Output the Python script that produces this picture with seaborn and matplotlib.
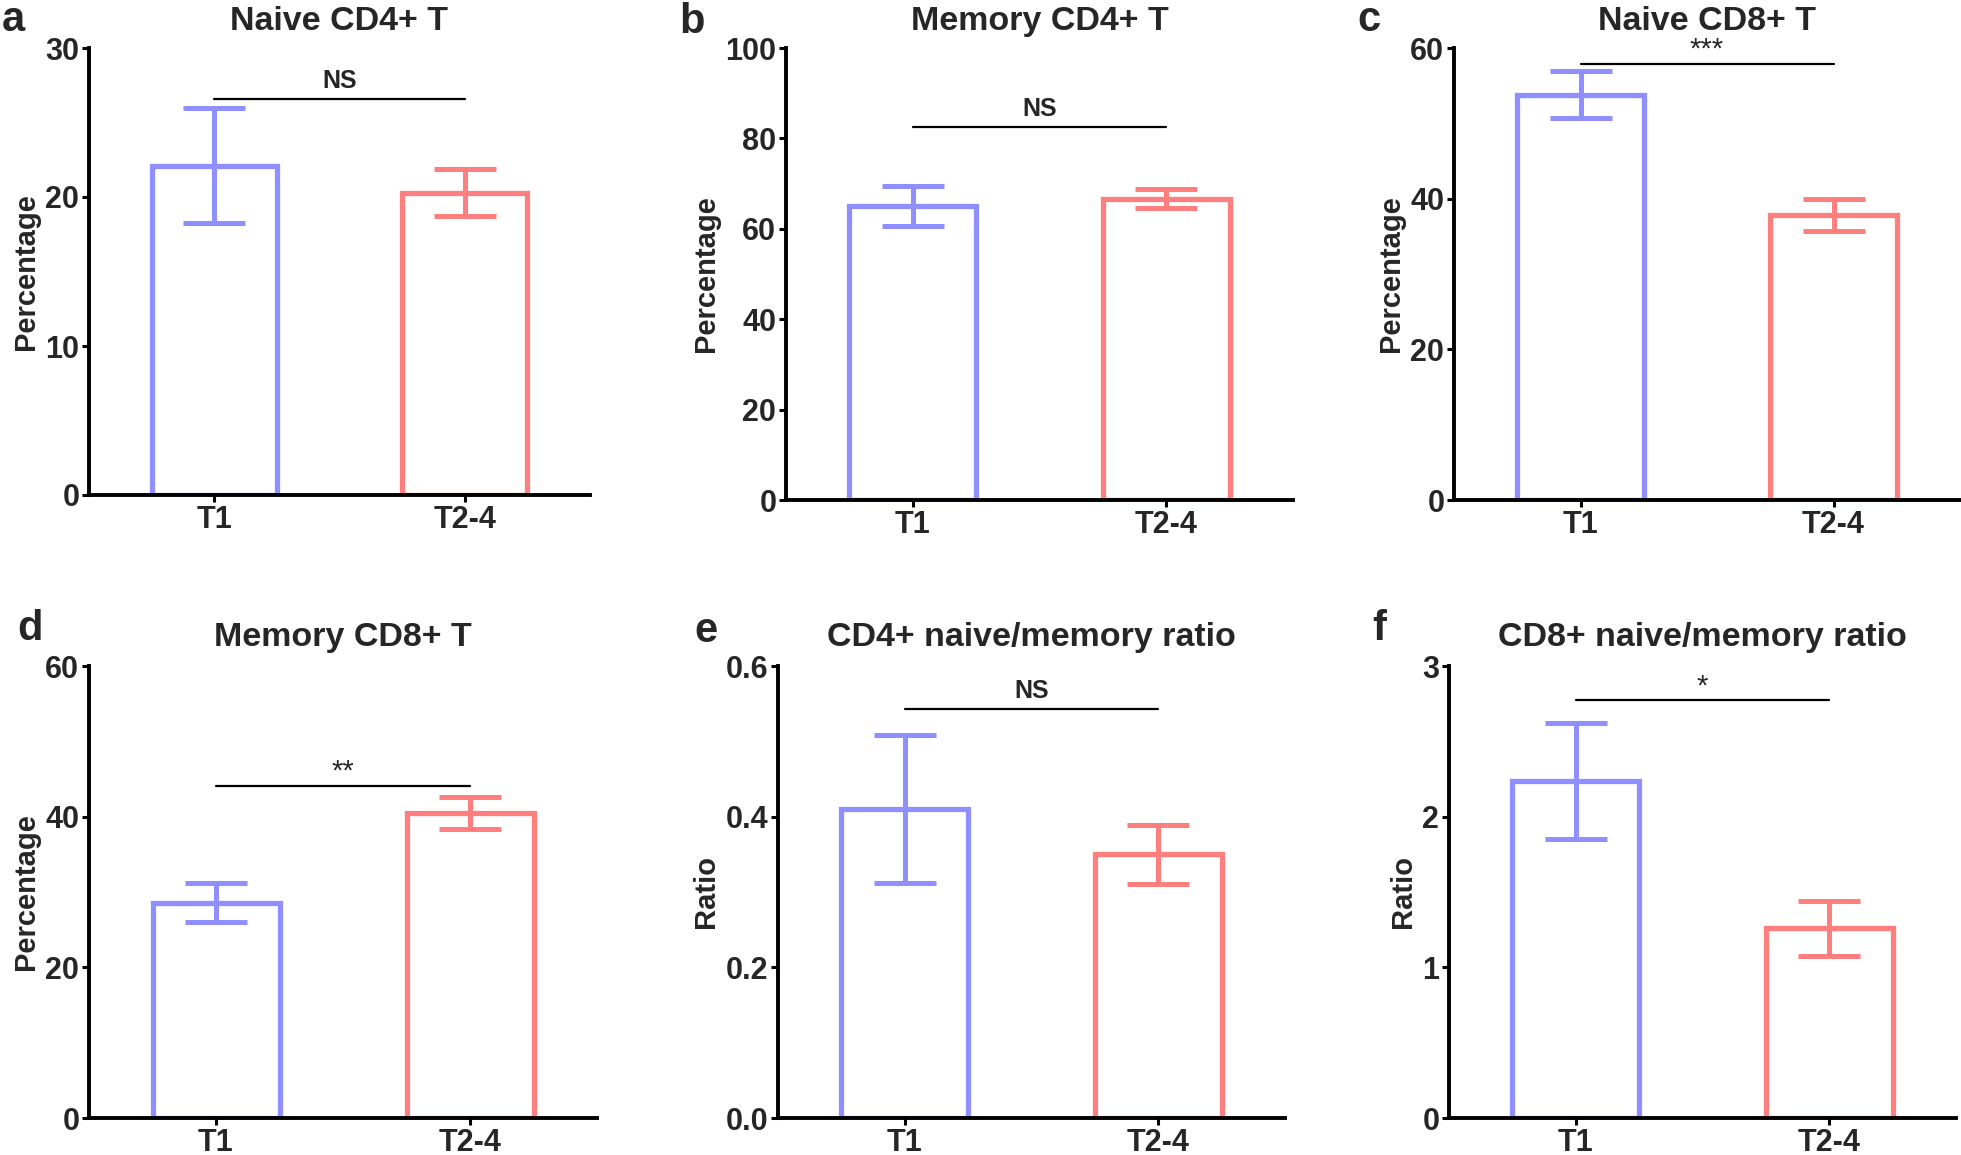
import seaborn as sns
import matplotlib.pyplot as plt
import numpy as np
import pandas as pd

groups = ["T1", "T2-4"]

titles = ["Naive CD4+ T", "Memory CD4+ T", "Naive CD8+ T",
          "Memory CD8+ T", "CD4+ naive/memory ratio", "CD8+ naive/memory ratio"]
letters = ["a", "b", "c", "d", "e", "f"]
ylabels = ["Percentage", "Percentage", "Percentage", "Percentage", "Ratio", "Ratio"]

naive_cd4 = [22.1, 20.3]
naive_cd4_sem = [3.85, 1.6]
memory_cd4 = [65.0, 66.7]
memory_cd4_sem = [4.4, 2.0]
naive_cd8 = [53.8, 37.8]
naive_cd8_sem = [3.1, 2.15]
memory_cd8 = [28.6, 40.5]
memory_cd8_sem = [2.6, 2.15]
cd4_ratio = [0.410, 0.350]
cd4_ratio_sem = [0.098, 0.039]
cd8_ratio = [2.235, 1.258]
cd8_ratio_sem = [0.385, 0.18]

means = [naive_cd4, memory_cd4, naive_cd8, memory_cd8, cd4_ratio, cd8_ratio]
sems = [naive_cd4_sem, memory_cd4_sem, naive_cd8_sem, memory_cd8_sem, cd4_ratio_sem, cd8_ratio_sem]

ymax = [30, 100, 60, 60, 0.6, 3]
yticks = [[0, 10, 20, 30], [0, 20, 40, 60, 80, 100], [0, 20, 40, 60],
          [0, 20, 40, 60], [0.0, 0.2, 0.4, 0.6], [0, 1, 2, 3]]
ytick_fmt = ["{:.0f}", "{:.0f}", "{:.0f}", "{:.0f}", "{:.1f}", "{:.0f}"]
sig_y = [26.6, 82.6, 57.9, 44.1, 0.543, 2.773]
sig_text = ["NS", "NS", "***", "**", "NS", "*"]

colors = {"T1": "#8f8fff", "T2-4": "#ff7f7f"}

sns.set_theme(style="white")
plt.rcParams['font.family'] = ['Liberation Sans', 'DejaVu Sans']
plt.rcParams['font.weight'] = 'bold'

W, H = 1961, 1155
fig = plt.figure(figsize=(W / 100, H / 100), dpi=100)

# axes boxes in pixels: left, right, top, bottom
boxes = [(89, 590, 48, 495), (786, 1293, 48, 500), (1454, 1960, 48, 500),
         (89, 597, 666, 1118), (778, 1285, 666, 1118), (1449, 1956, 666, 1118)]
# panel letter (left x, baseline y) and title baseline y, in pixels
letter_pos = [(2, 31), (679, 33), (1357, 31), (17, 640), (694, 642), (1372, 640)]
title_base = [30, 30, 30, 646, 646, 646]

for i in range(6):
    l, r, t, b = boxes[i]
    ax = fig.add_axes([l / W, 1 - b / H, (r - l) / W, (b - t) / H])
    df = pd.DataFrame({"group": groups, "value": means[i]})
    sns.barplot(data=df, x="group", y="value", hue="group", palette=colors,
                fill=False, linewidth=3.8, width=0.5, errorbar=None,
                legend=False, ax=ax)
    for j, g in enumerate(groups):
        ax.errorbar(j, means[i][j], yerr=sems[i][j], color=colors[g],
                    elinewidth=3.6, capsize=22, capthick=3.6, fmt='none', zorder=3)
    ax.plot([0, 1], [sig_y[i], sig_y[i]], color="black", lw=1.6, clip_on=False)
    if sig_text[i] == "NS":
        ax.annotate(sig_text[i], xy=(0.5, sig_y[i]), xytext=(0, 4), textcoords="offset points",
                    ha="center", va="bottom", fontsize=18, fontweight="bold")
    else:
        ax.annotate(sig_text[i], xy=(0.5, sig_y[i]), xytext=(0, 0), textcoords="offset points",
                    ha="center", va="bottom", fontsize=21, fontweight="normal")
    ax.set_xlim(-0.5, 1.5)
    ax.set_ylim(0, ymax[i])
    ax.set_yticks(yticks[i])
    ax.set_yticklabels([ytick_fmt[i].format(v) for v in yticks[i]])
    sns.despine(ax=ax)
    for side in ["left", "bottom"]:
        ax.spines[side].set_linewidth(2.8)
        ax.spines[side].set_color("black")
    ax.tick_params(axis="both", direction="out", length=5, width=2.2, color="black",
                   labelsize=22, pad=2, left=True, bottom=True)
    for lab in ax.get_xticklabels() + ax.get_yticklabels():
        lab.set_fontweight("bold")
    ax.set_xlabel("")
    ax.set_ylabel(ylabels[i], fontsize=21, fontweight="bold", labelpad=4)
    fig.text((l + r) / 2 / W, 1 - title_base[i] / H, titles[i], fontsize=24.5,
             fontweight="bold", ha="center", va="baseline")
    fig.text(letter_pos[i][0] / W, 1 - letter_pos[i][1] / H, letters[i], fontsize=30,
             fontweight="bold", ha="left", va="baseline")

fig.savefig("out.png", dpi=100, facecolor="white")
